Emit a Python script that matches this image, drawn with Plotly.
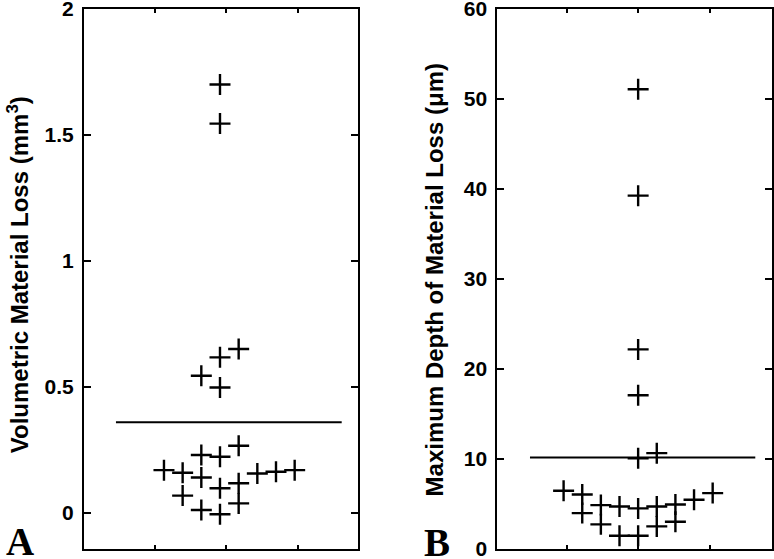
import plotly.graph_objects as go

# Panel A: volumetric material loss (mm^3), swarm column index per point
vol_loss = [1.70, 1.545, 0.650, 0.617, 0.544, 0.497, 0.266, 0.229, 0.222, 0.169, 0.159,
            0.140, 0.156, 0.163, 0.169, 0.117, 0.097, 0.068, 0.037, 0.011, -0.006]
vol_col = [0, 0, 1, 0, -1, 0, 1, -1, 0, -3, -2, -1, 2, 3, 4, 1, 0, -2, 1, -1, 0]

# Panel B: maximum depth of material loss (um)
depth_loss = [51.09, 39.26, 22.18, 17.08, 10.09, 10.65, 6.47, 6.06, 3.99, 4.88, 2.74,
              4.73, 1.48, 4.51, 1.48, 4.73, 2.51, 4.95, 3.03, 5.47, 6.21]
depth_col = [0, 0, 0, 0, 0, 1, -4, -3, -3, -2, -2, -1, -1, 0, 0, 1, 1, 2, 2, 3, 4]

x_ticks = [1, 2, 3]
yticks_a = [0, 0.5, 1, 1.5, 2]
yticks_b = [0, 10, 20, 30, 40, 50, 60]

BLACK = "black"
FONT = "Liberation Sans, Arial, sans-serif"

fig = go.Figure()


def add_panel(values, cols, center, step, line_x, xa, ya):
    xs = [center + c * step for c in cols]
    mean = sum(values) / len(values)
    # mean line
    fig.add_trace(go.Scatter(
        x=line_x, y=[mean, mean], mode="lines",
        line=dict(color=BLACK, width=2), xaxis=xa, yaxis=ya,
        showlegend=False, hoverinfo="skip",
    ))
    fig.add_trace(go.Scatter(
        x=xs, y=values, mode="markers",
        marker=dict(symbol="cross-thin", size=15, color=BLACK,
                    line=dict(width=2.4, color=BLACK)),
        xaxis=xa, yaxis=ya, showlegend=False,
    ))


add_panel(vol_loss, vol_col, 1.911, 0.2617, [0.453, 3.617], "x", "y")
add_panel(depth_loss, depth_col, 2.0, 0.261, [0.485, 3.641], "x2", "y2")

axis_common = dict(
    showline=True, linewidth=2, linecolor=BLACK, mirror="allticks",
    ticks="inside", tickcolor=BLACK, tickwidth=1.5,
    showgrid=False, zeroline=False, automargin=False,
)
ytick_font = dict(size=21, family=FONT, color=BLACK, weight="bold")

fig.update_layout(
    width=774, height=559,
    margin=dict(l=84, r=2, t=9, b=10),
    paper_bgcolor="white", plot_bgcolor="white",
    font=dict(family=FONT, color=BLACK),
    xaxis=dict(domain=[0, 0.3978], range=[0.005, 3.841], tickvals=x_ticks,
               showticklabels=False, ticklen=4, **axis_common),
    xaxis2=dict(domain=[0.6007, 1.0], range=[0.027, 3.875], tickvals=x_ticks,
                showticklabels=False, ticklen=4, anchor="y2", **axis_common),
    yaxis=dict(range=[-0.144, 2.0], tickvals=yticks_a,
               ticktext=[f"{v:g}" for v in yticks_a], ticklen=7,
               tickfont=ytick_font, ticklabelstandoff=4,
               ticklabeloverflow="allow", **axis_common),
    yaxis2=dict(range=[0, 60], tickvals=yticks_b, anchor="x2", ticklen=7,
                tickfont=ytick_font, ticklabelstandoff=4,
                ticklabeloverflow="allow", **axis_common),
)

title_font = dict(family=FONT, size=24, color=BLACK, weight="bold")
fig.add_annotation(text="Volumetric Material Loss (mm<sup>3</sup>)", textangle=-90,
                   xref="paper", yref="paper", x=-0.0959, y=0.507,
                   xanchor="center", yanchor="middle", showarrow=False, font=title_font)
fig.add_annotation(text="Maximum Depth of Material Loss (\u03bcm)", textangle=-90,
                   xref="paper", yref="paper", x=0.510, y=0.499,
                   xanchor="center", yanchor="middle", showarrow=False, font=title_font)

letter_font = dict(family="Liberation Serif, Times New Roman, serif", size=39,
                   color=BLACK, weight="bold")
fig.add_annotation(text="A", xref="paper", yref="paper", x=-0.0937, y=0.0139,
                   xanchor="center", yanchor="middle", showarrow=False, font=letter_font)
fig.add_annotation(text="B", xref="paper", yref="paper", x=0.513, y=0.012,
                   xanchor="center", yanchor="middle", showarrow=False, font=letter_font)

# drop the default 8px page margin so the figure fills the window exactly
fig.write_html("out.html", config={"displayModeBar": False},
               post_script="document.body.style.margin = '0px';")
